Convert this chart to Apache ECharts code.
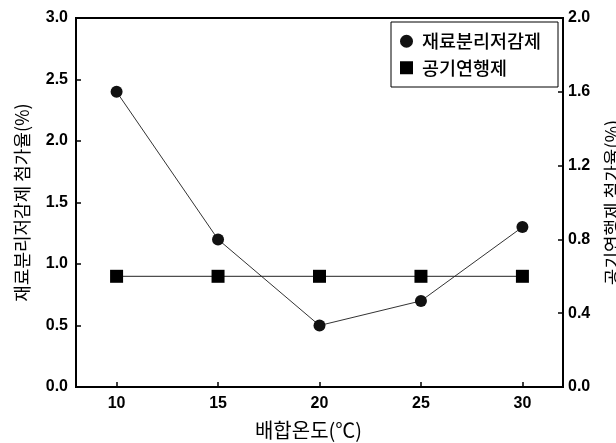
<!DOCTYPE html>
<html>
<head>
<meta charset="utf-8">
<script src="https://cdn.jsdelivr.net/npm/echarts@6/dist/echarts.min.js"></script>
<style>
  html, body { margin: 0; padding: 0; background: #fff; }
  #chart { width: 616px; height: 443px; }
</style>
</head>
<body>
<div id="chart"></div>
<script>
// 배합온도별 첨가율
const temps = [10, 15, 20, 25, 30];
const reducer = [2.4, 1.2, 0.5, 0.7, 1.3];   // 재료분리저감제 (left axis)
const airAgent = [0.6, 0.6, 0.6, 0.6, 0.6];  // 공기연행제 (right axis)
const xTicks = [10, 15, 20, 25, 30];

const numFont = 'Liberation Sans, Arial, sans-serif';
const korFont = '"Noto Sans CJK KR", sans-serif';

const chart = echarts.init(document.getElementById('chart'), null, { renderer: 'canvas' });

const option = {
  animation: false,
  backgroundColor: '#fff',
  grid: {
    left: 76,
    right: 53,
    top: 18,
    bottom: 56,
    outerBoundsMode: 'none',
    show: true,
    borderColor: '#000',
    borderWidth: 2
  },
  legend: {
    orient: 'vertical',
    right: 58,
    top: 22,
    borderColor: '#000',
    borderWidth: 1,
    padding: [10, 6, 10, 9],
    itemGap: 8,
    itemWidth: 13,
    itemHeight: 13,
    textStyle: { fontFamily: korFont, fontSize: 18.5, fontWeight: 500, color: '#000', lineHeight: 14, width: 130, padding: [0, 0, 0, 4] },
    data: [
      { name: '재료분리저감제', icon: 'circle' },
      { name: '공기연행제', icon: 'rect' }
    ]
  },
  xAxis: {
    type: 'value',
    min: 8,
    max: 32,
    name: '배합온도(℃)',
    nameLocation: 'middle',
    nameGap: 33,
    nameTextStyle: { fontFamily: korFont, fontSize: 20, color: '#000', padding: [0, 22, 0, 0] },
    axisLine: { lineStyle: { color: '#000', width: 2 } },
    axisTick: { inside: true, length: 5, customValues: xTicks, lineStyle: { color: '#000', width: 1.5 } },
    axisLabel: { customValues: xTicks, margin: 9, fontFamily: numFont, fontWeight: 'bold', fontSize: 16, color: '#000' },
    splitLine: { show: false }
  },
  yAxis: [
    {
      type: 'value',
      min: 0,
      max: 3,
      interval: 0.5,
      name: '재료분리저감제 첨가율(%)',
      nameLocation: 'middle',
      nameGap: 45,
      nameRotate: 90,
      nameTextStyle: { fontFamily: korFont, fontSize: 18, color: '#000' },
      axisLine: { show: true, lineStyle: { color: '#000', width: 2 } },
      axisTick: { inside: true, length: 5, lineStyle: { color: '#000', width: 1.5 } },
      axisLabel: { margin: 8, formatter: v => v.toFixed(1), fontFamily: numFont, fontWeight: 'bold', fontSize: 16, color: '#000' },
      splitLine: { show: false }
    },
    {
      type: 'value',
      position: 'right',
      min: 0,
      max: 2,
      interval: 0.4,
      name: '공기연행제 첨가율(%)',
      nameLocation: 'middle',
      nameGap: 40,
      nameRotate: 90,
      nameTextStyle: { fontFamily: korFont, fontSize: 18, color: '#000' },
      axisLine: { show: true, lineStyle: { color: '#000', width: 2 } },
      axisTick: { inside: true, length: 5, lineStyle: { color: '#000', width: 1.5 } },
      axisLabel: { margin: 5, formatter: v => v.toFixed(1), fontFamily: numFont, fontWeight: 'bold', fontSize: 16, color: '#000' },
      splitLine: { show: false }
    }
  ],
  series: [
    {
      name: '재료분리저감제',
      type: 'line',
      yAxisIndex: 0,
      data: temps.map((t, i) => [t, reducer[i]]),
      symbol: 'circle',
      symbolSize: 12,
      itemStyle: { color: '#111' },
      lineStyle: { color: '#333', width: 1 }
    },
    {
      name: '공기연행제',
      type: 'line',
      yAxisIndex: 1,
      data: temps.map((t, i) => [t, airAgent[i]]),
      symbol: 'rect',
      symbolSize: 13,
      itemStyle: { color: '#000' },
      lineStyle: { color: '#222', width: 1 }
    }
  ]
};

chart.setOption(option);
</script>
</body>
</html>
